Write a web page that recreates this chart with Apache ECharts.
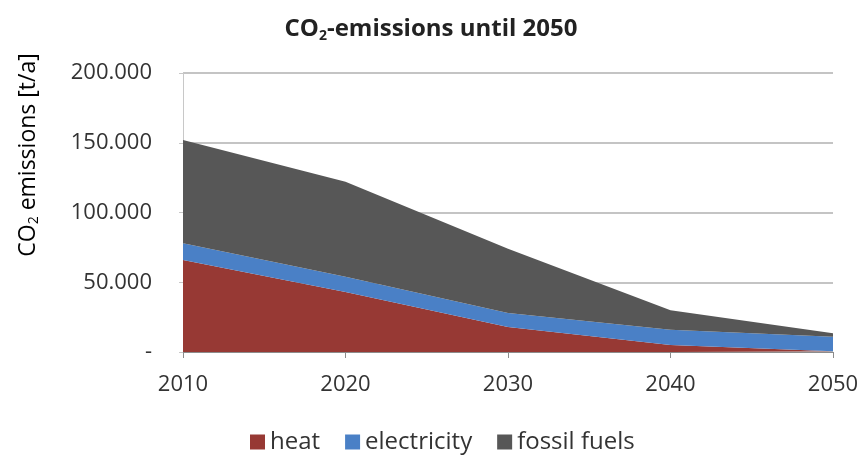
<!DOCTYPE html>
<html>
<head>
<meta charset="utf-8">
<script src="https://cdn.jsdelivr.net/npm/echarts@6/dist/echarts.min.js"></script>
<style>
  html, body { margin: 0; padding: 0; background: #fff; }
  #chart { width: 862px; height: 456px; }
</style>
</head>
<body>
<div id="chart"></div>
<script>
// Years on the horizontal axis
const years = ['2010', '2020', '2030', '2040', '2050'];

// Annual CO2 emissions per source, t/a (stacked)
const heat = [66000, 43000, 18000, 5000, 500];
const electricity = [12000, 11000, 10000, 11000, 10500];
const fossilFuels = [74000, 68000, 46000, 14000, 2500];

// Value axis ticks
const yTicks = [0, 50000, 100000, 150000, 200000];

const FONT = '"Open Sans", "Liberation Sans", sans-serif';

function fmtThousands(v) {
  if (v === 0) return '-';
  return String(v).replace(/\B(?=(\d{3})+(?!\d))/g, '.');
}

const chart = echarts.init(document.getElementById('chart'), null, { renderer: 'canvas' });

function areaSeries(name, data, color) {
  return {
    name: name,
    type: 'line',
    stack: 'total',
    data: data,
    symbol: 'none',
    lineStyle: { width: 0 },
    areaStyle: { color: color, opacity: 1 },
    itemStyle: { color: color },
    emphasis: { disabled: true }
  };
}

chart.setOption({
  animation: false,
  title: {
    text: '{b|CO}{s|2}{b|-emissions until 2050}',
    left: 'center',
    top: 11,
    textStyle: {
      rich: {
        b: { fontFamily: FONT, fontSize: 24, fontWeight: 'bold', color: '#222' },
        s: { fontFamily: FONT, fontSize: 14, fontWeight: 'bold', color: '#222', verticalAlign: 'bottom', padding: [13, 0, 0, 0] }
      }
    }
  },
  grid: { left: 183, right: 29, top: 73, bottom: 104, containLabel: false },
  legend: {
    bottom: -3,
    left: 245,
    itemWidth: 15,
    itemHeight: 15,
    itemGap: 25,
    icon: 'rect',
    textStyle: { fontFamily: FONT, fontSize: 24, color: '#333' },
    data: ['heat', 'electricity', 'fossil fuels']
  },
  xAxis: {
    type: 'category',
    data: years,
    boundaryGap: false,
    axisLine: { lineStyle: { color: '#8c8c8c', width: 1 } },
    axisTick: { show: true, length: 6, lineStyle: { color: '#8c8c8c' } },
    axisLabel: { fontFamily: FONT, fontSize: 22, color: '#333', margin: 22 }
  },
  yAxis: {
    type: 'value',
    min: 0,
    max: 200000,
    interval: 50000,
    axisLine: { show: true, lineStyle: { color: '#c8c8c8', width: 1 } },
    axisTick: { show: true, inside: false, length: 4, lineStyle: { color: '#c8c8c8' } },
    splitLine: { lineStyle: { color: '#c4c4c4', width: 2 } },
    axisLabel: {
      fontFamily: FONT, fontSize: 22, color: '#333', margin: 31,
      formatter: function (v) { return yTicks.indexOf(v) >= 0 ? fmtThousands(v) : ''; }
    }
  },
  graphic: [{
    type: 'text',
    x: 28,
    y: 155,
    rotation: Math.PI / 2,
    style: {
      text: '{n|CO}{s|2}{n| emissions [t/a]}',
      align: 'center',
      verticalAlign: 'middle',
      rich: {
        n: { fontFamily: FONT, fontSize: 23, color: '#333' },
        s: { fontFamily: FONT, fontSize: 14, color: '#333', verticalAlign: 'bottom', padding: [12, 0, 0, 0] }
      }
    }
  }],
  series: [
    areaSeries('heat', heat, '#973934'),
    areaSeries('electricity', electricity, '#4a80c6'),
    areaSeries('fossil fuels', fossilFuels, '#575757')
  ]
});
</script>
</body>
</html>
